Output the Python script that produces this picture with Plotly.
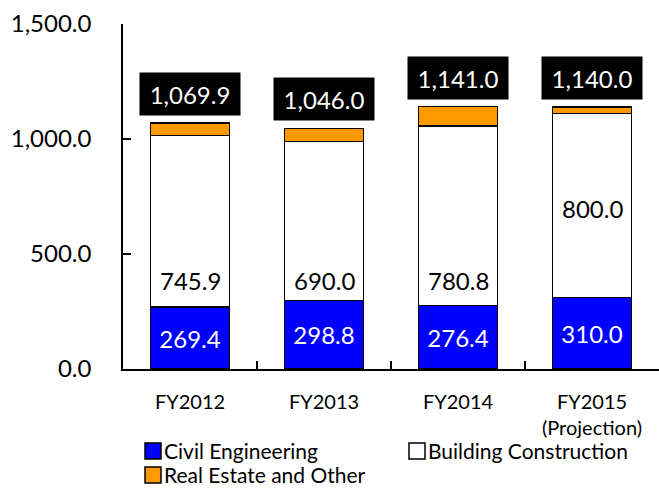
import plotly.graph_objects as go

# data
years = ["FY2012", "FY2013", "FY2014", "FY2015<br>(Projection)"]
civil = [269.4, 298.8, 276.4, 310.0]
building = [745.9, 690.0, 780.8, 800.0]
totals = [1069.9, 1046.0, 1141.0, 1140.0]
real_estate = [round(t - c - b, 1) for t, c, b in zip(totals, civil, building)]

names = ["Civil Engineering", "Building Construction", "Real Estate and Other"]
colors = ["#0000FF", "white", "#FF9900"]

FONT = "Lato, 'Open Sans', sans-serif"
W, H = 659, 488
L, R, T, B = 123, 0, 24, 119
edge = dict(color="black", width=1.5)

fig = go.Figure()
for name, vals, col in zip(names, [civil, building, real_estate], colors):
    fig.add_trace(go.Bar(x=years, y=vals, name=name,
                         marker=dict(color=col, line=edge), showlegend=False))

fig.data[0].update(text=[f"{v:.1f}" for v in civil], textposition="inside",
                   insidetextanchor="middle", textangle=0,
                   insidetextfont=dict(family=FONT, size=24, color="white"))

# building construction labels were hand placed in the original
label_shift = [-59, -60, -65, -3]
for x, c, b, s in zip(years, civil, building, label_shift):
    fig.add_annotation(x=x, y=c + b / 2, text=f"{b:.1f}", showarrow=False,
                       yshift=s, font=dict(family=FONT, size=24, color="black"))

# totals in black boxes
for x, t in zip(years, totals):
    fig.add_annotation(x=x, y=t, text=f"{t:,.1f}", showarrow=False,
                       yanchor="bottom", yshift=7,
                       bgcolor="black", width=90, height=32, borderpad=5,
                       font=dict(family=FONT, size=24, color="white"))

# legend drawn by hand (two columns like the original)
pw, ph = W - L - R, H - T - B
def px(x): return (x - L) / pw
def py(y): return (H - B - y) / ph

legend_pos = [(145, 451), (409, 451), (145, 475)]
sq = 16
for i, (name, col, (lx, ly)) in enumerate(zip(names, colors, legend_pos)):
    fig.add_shape(type="rect", xref="paper", yref="paper",
                  x0=px(lx), x1=px(lx + sq), y0=py(ly - sq / 2), y1=py(ly + sq / 2),
                  fillcolor=col, line=dict(color="black", width=1.5))
    last_row = i == 2
    fig.add_annotation(xref="paper", yref="paper", x=px(lx + sq + 2),
                       y=py(H if last_row else ly - 1),
                       xanchor="left", yanchor="bottom" if last_row else "middle",
                       text=name, showarrow=False, borderpad=0,
                       font=dict(family=FONT, size=21, color="black"))

fig.update_layout(
    width=W, height=H,
    margin=dict(l=L, r=R, t=T, b=B),
    barmode="stack", bargap=0.407,
    plot_bgcolor="white", paper_bgcolor="white",
    font=dict(family=FONT, size=20, color="black"),
    showlegend=False,
    xaxis=dict(showline=True, linecolor="black", linewidth=1.5,
               ticks="inside", tickson="boundaries", ticklen=8,
               tickcolor="black", tickwidth=1.5, showgrid=False,
               tickfont=dict(family=FONT, size=20), ticklabelstandoff=14),
    yaxis=dict(range=[0, 1500], dtick=500, tickformat=",.1f",
               showline=True, linecolor="black", linewidth=1.5,
               ticks="inside", ticklen=8, tickcolor="black", tickwidth=1.5,
               showgrid=False, zeroline=False,
               tickfont=dict(family=FONT, size=24), ticklabelstandoff=25),
)

# drop the default page margin so the figure sits at the window's corner
fig.write_html("out.html", config={"displayModeBar": False},
               post_script="document.body.style.margin='0';")
